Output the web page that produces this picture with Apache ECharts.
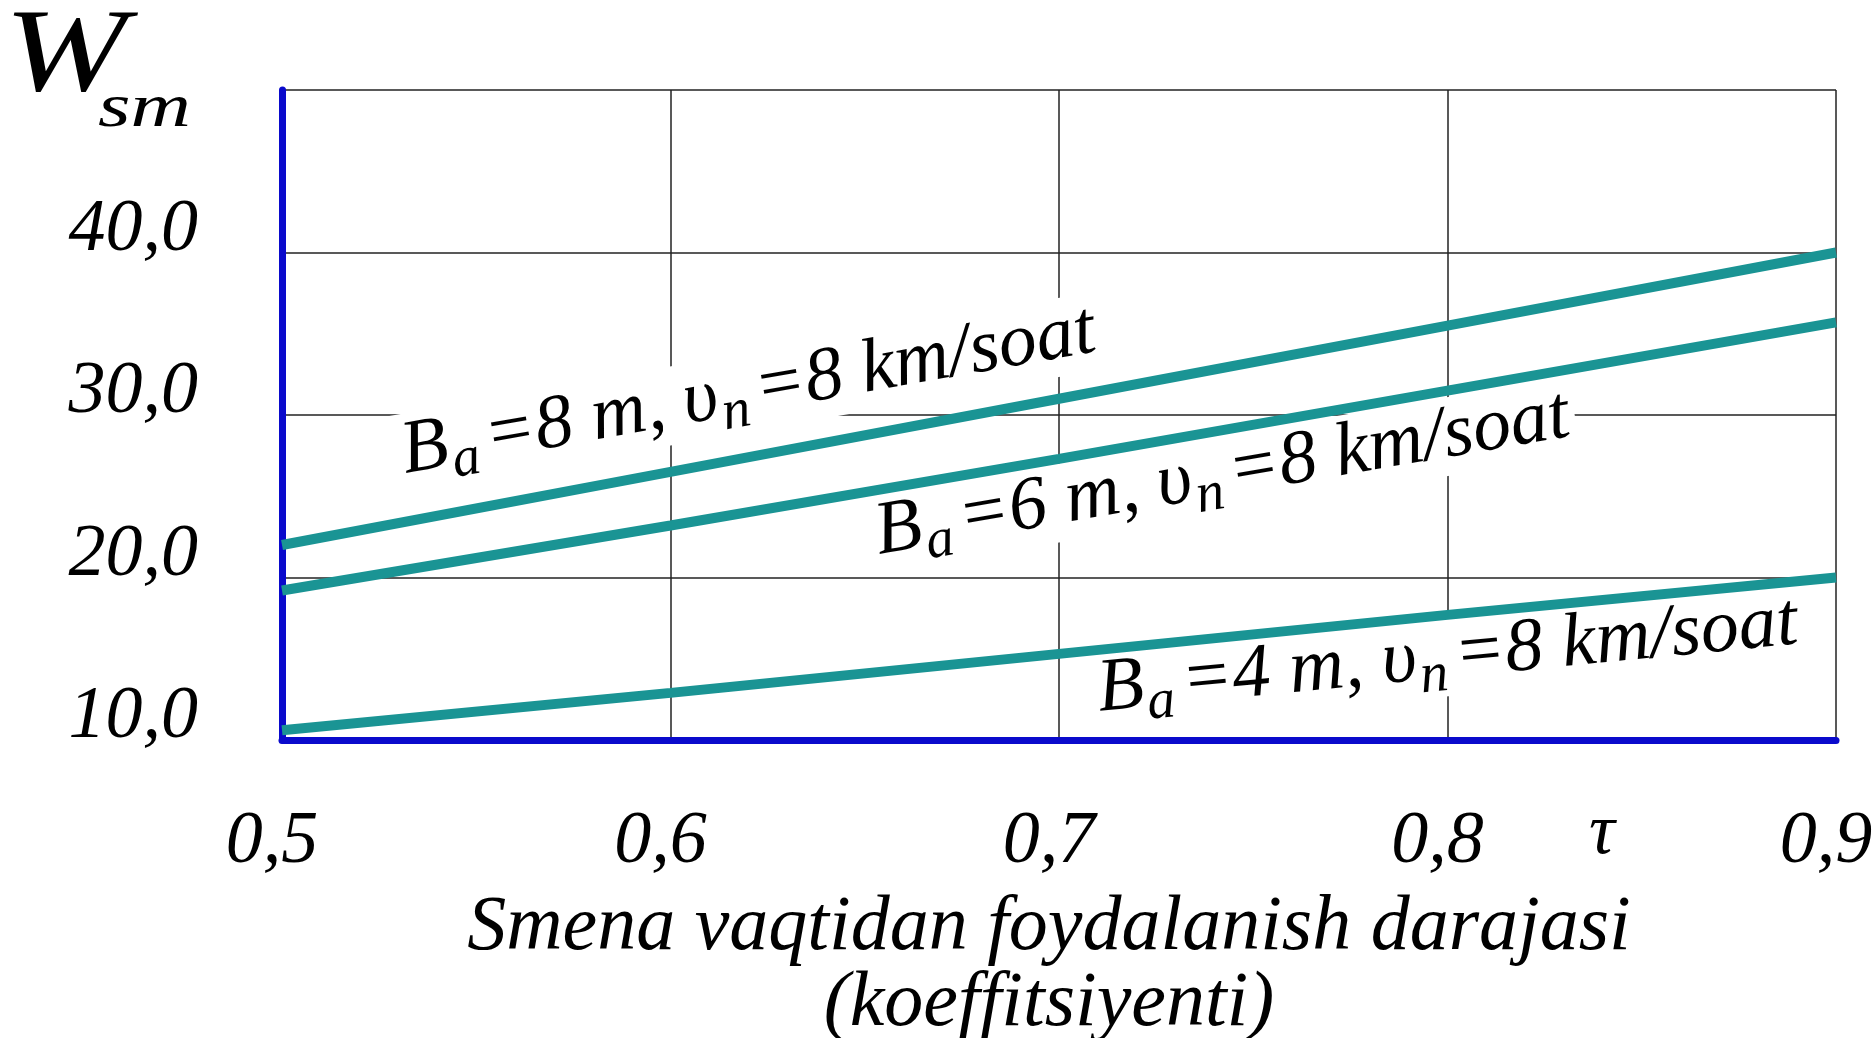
<!DOCTYPE html>
<html>
<head>
<meta charset="utf-8">
<script src="https://cdn.jsdelivr.net/npm/echarts@6/dist/echarts.min.js"></script>
<style>
  html, body { margin: 0; padding: 0; background: #fff; }
  #main { width: 1875px; height: 1038px; }
</style>
</head>
<body>
<div id="main"></div>
<script>
// tau values (x) and W_sm for each working width
var tauValues = [0.5, 0.6, 0.7, 0.8, 0.9];
var wB8 = [22.0, 26.5, 31.0, 35.5, 40.0];
var wB6 = [19.2, 23.2, 27.3, 31.5, 35.7];
var wB4 = [10.6, 12.9, 15.3, 17.7, 20.0];

var curveLabels = [
  '{main|B}{sub|a}{main|=8 m, υ}{sub|n}{main|=8 km/soat}',
  '{main|B}{sub|a}{main|=6 m, υ}{sub|n}{main|=8 km/soat}',
  '{main|B}{sub|a}{main|=4 m, υ}{sub|n}{main|=8 km/soat}'
];
// where each curve label sits (data coords) and its slope in degrees
var labelAt = [[0.62, 31.4], [0.742, 26.3], [0.80, 15.1]];
var labelAngle = [10, 9.7, 5.5];

var serif = 'Liberation Serif';
var teal = '#1a9494';
var blue = '#0a0acc';

function pairs(ys) {
  return tauValues.map(function (x, i) { return [x, ys[i]]; });
}

function comma(v) {
  return v.toFixed(1).replace('.', ',');
}

var chart = echarts.init(document.getElementById('main'));

var option = {
  backgroundColor: '#fff',
  animation: false,
  grid: { left: 282, right: 39, top: 90, bottom: 298, outerBoundsMode: 'none' },
  xAxis: {
    type: 'value',
    min: 0.5,
    max: 0.9,
    interval: 0.1,
    name: 'Smena vaqtidan foydalanish darajasi\n(koeffitsiyenti)',
    nameLocation: 'middle',
    nameGap: 150,
    nameTextStyle: {
      fontFamily: serif, fontStyle: 'italic', fontSize: 78, color: '#000',
      lineHeight: 76, padding: [0, 20, 0, 0]
    },
    axisLine: { show: true, lineStyle: { color: blue, width: 7 } },
    axisTick: { show: false },
    axisLabel: {
      margin: 66,
      fontFamily: serif, fontStyle: 'italic', fontSize: 74, color: '#000',
      padding: [0, 20, 0, 0],
      formatter: function (v) { return comma(v); }
    },
    splitLine: { show: true, showMinLine: false, lineStyle: { color: '#222', width: 1.5 } }
  },
  yAxis: {
    type: 'value',
    min: 10,
    max: 50,
    interval: 10,
    axisLine: { show: true, lineStyle: { color: blue, width: 7 } },
    axisTick: { show: false },
    axisLabel: {
      margin: 84,
      fontFamily: serif, fontStyle: 'italic', fontSize: 74, color: '#000',
      verticalAlign: 'bottom',
      lineHeight: 44,
      formatter: function (v) { return v === 50 ? '' : comma(v); }
    },
    splitLine: { show: true, showMinLine: false, lineStyle: { color: '#222', width: 1.5 } }
  },
  series: [
    { name: 'B=8', type: 'line', z: 3, data: pairs(wB8), symbol: 'none', lineStyle: { color: teal, width: 10 } },
    { name: 'B=6', type: 'line', z: 3, data: pairs(wB6), symbol: 'none', lineStyle: { color: teal, width: 10 } },
    { name: 'B=4', type: 'line', z: 3, data: pairs(wB4), symbol: 'none', lineStyle: { color: teal, width: 10 } }
  ]
};

chart.setOption(option);

// texts: axis title, tau mark and the curve labels (placed through the grid scale)
var graphics = [
  {
    type: 'text', x: 4, y: 59, scaleX: 1.25,
    style: { text: 'W', font: 'italic 118px "Liberation Serif"', fill: '#000', verticalAlign: 'middle' }
  },
  {
    type: 'text', x: 98, y: 110, scaleX: 1.35,
    style: { text: 'sm', font: 'italic 62px "Liberation Serif"', fill: '#000', verticalAlign: 'middle' }
  },
  {
    type: 'text', x: 1602, y: 834,
    style: { text: 'τ', font: 'italic 72px "Liberation Serif"', fill: '#000', align: 'center', verticalAlign: 'middle' }
  }
];

labelAt.forEach(function (p, i) {
  var px = chart.convertToPixel({ gridIndex: 0 }, p);
  graphics.push({
    type: 'text',
    z: 1,
    silent: true,
    x: px[0],
    y: px[1],
    rotation: labelAngle[i] * Math.PI / 180,
    style: {
      text: curveLabels[i],
      align: 'center',
      verticalAlign: 'middle',
      backgroundColor: '#fff',
      padding: [0, 6, 0, 6],
      rich: {
        main: { fontFamily: serif, fontStyle: 'italic', fontSize: 76, fill: '#000', lineHeight: 78 },
        sub: { fontFamily: serif, fontStyle: 'italic', fontSize: 56, fill: '#000', lineHeight: 78, padding: [36, 8, 0, 2] }
      }
    }
  });
});

chart.setOption({ graphic: graphics });
</script>
</body>
</html>
